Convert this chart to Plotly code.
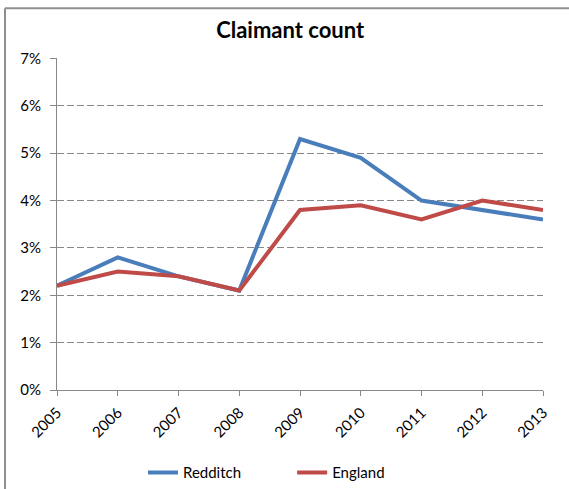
import plotly.graph_objects as go

# years on the x axis
years = [2005, 2006, 2007, 2008, 2009, 2010, 2011, 2012, 2013]

# claimant count rate (%)
redditch = [2.2, 2.8, 2.4, 2.1, 5.3, 4.9, 4.0, 3.8, 3.6]
england = [2.2, 2.5, 2.4, 2.1, 3.8, 3.9, 3.6, 4.0, 3.8]

font_family = "Lato, Liberation Sans, sans-serif"
grey = "#888888"

fig = go.Figure()
fig.add_trace(go.Scatter(x=years, y=[v / 100 for v in redditch], mode="lines",
                         name="Redditch" + "\u00a0" * 12, line=dict(color="#4A7EBB", width=4)))
fig.add_trace(go.Scatter(x=years, y=[v / 100 for v in england], mode="lines",
                         name="England", line=dict(color="#BE4B48", width=4)))

# outer chart border (right and bottom run off the picture)
fig.add_shape(type="line", xref="paper", yref="paper",
              x0=-0.107, x1=1.2, y0=1.15, y1=1.15,
              line=dict(color="#8f8f8f", width=2), layer="above")
fig.add_shape(type="line", xref="paper", yref="paper",
              x0=-0.107, x1=-0.107, y0=-0.5, y1=1.15,
              line=dict(color="#8f8f8f", width=2), layer="above")

fig.update_layout(
    width=569, height=489,
    margin=dict(l=57, r=26, t=58, b=99),
    paper_bgcolor="white", plot_bgcolor="white",
    font=dict(family=font_family, size=15, color="black"),
    title=dict(text="<b>Claimant count</b>", x=0.51, xanchor="center",
               y=0.938, yanchor="middle", font=dict(size=22)),
    legend=dict(orientation="h", x=0.431, xanchor="center", xref="paper",
                y=0.033, yanchor="middle", yref="container",
                font=dict(size=15), tracegroupgap=0),
    showlegend=True,
)

fig.update_xaxes(range=[2005, 2013], tickmode="array", tickvals=years,
                 ticktext=[str(y) for y in years], tickangle=-45, automargin=False,
                 showgrid=False, showline=True, linecolor=grey, linewidth=1,
                 ticks="outside", ticklen=5, tickcolor=grey, zeroline=False,
                 ticklabelstandoff=2)
fig.update_yaxes(range=[0, 0.0701], tickvals=[0, 0.01, 0.02, 0.03, 0.04, 0.05, 0.06, 0.07],
                 tickformat=".0%", automargin=False,
                 showgrid=True, gridcolor=grey, griddash="7px,3px", gridwidth=1,
                 showline=True, linecolor=grey, linewidth=1,
                 ticks="outside", ticklen=6, tickcolor=grey, zeroline=False,
                 ticklabelstandoff=6)

# drop the browser's default page margin so the figure sits at the top-left corner
fig.write_html("out.html", config={"displayModeBar": False},
               post_script="document.body.style.margin='0px';")
